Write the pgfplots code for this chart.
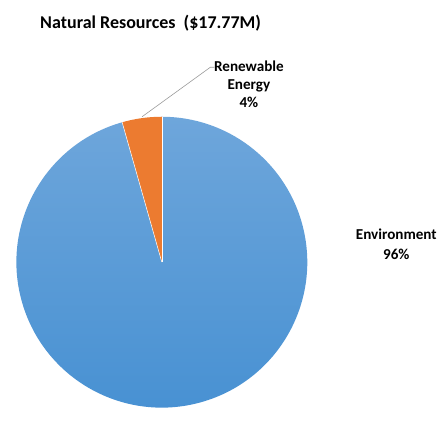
\documentclass[border=0pt]{standalone}
\usepackage{pgfplots}
\usepackage{pgfplotstable}
\pgfplotsset{compat=1.18}
\usepackage{fontspec}
\setmainfont{Carlito}
\definecolor{envtop}{HTML}{6EA6DB}
\definecolor{envbot}{HTML}{4690D2}
\definecolor{renorange}{HTML}{EC7B30}
\pgfplotstableread{
name value
Environment 95.6
Renewable 4.4
}\piedata
\begin{document}
\begin{tikzpicture}
\pgfplotstablegetelem{0}{value}\of\piedata \let\vEnv\pgfplotsretval
\pgfplotstablegetelem{1}{value}\of\piedata \let\vRen\pgfplotsretval
\pgfmathsetmacro{\aA}{90}
\pgfmathsetmacro{\aB}{90+3.6*\vRen}
\pgfmathsetmacro{\aC}{\aB+3.6*\vEnv}
\begin{axis}[
  width=440pt, height=412pt, scale only axis,
  xmin=0, xmax=440, ymin=0, ymax=412,
  hide axis, clip=false,
]
\path (rel axis cs:0,0) rectangle (rel axis cs:1,1);
% slices (pixel coords, y flipped)
\shade[top color=envtop, bottom color=envbot] (axis cs:160,147) -- (axis cs:{160+147*cos(\aB)},{147+147*sin(\aB)}) arc[start angle=\aB, end angle=\aC, radius=147pt] -- cycle;
\fill[renorange] (axis cs:160,147) -- (axis cs:{160+147*cos(\aA)},{147+147*sin(\aA)}) arc[start angle=\aA, end angle=\aB, radius=147pt] -- cycle;
\draw[white, line width=0.5pt] (axis cs:160,147) -- (axis cs:{160+147*cos(\aA)},{147+147*sin(\aA)});
\draw[white, line width=0.5pt] (axis cs:160,147) -- (axis cs:{160+147*cos(\aB)},{147+147*sin(\aB)});
% leader line
\draw[gray!80, line width=0.6pt] (axis cs:140,294) -- (axis cs:209,344) -- (axis cs:213,344);
% labels
\node[font=\bfseries\fontsize{18.2}{22}\selectfont, anchor=center] at (axis cs:148.7,388.2) {Natural Resources\ \ (\$17.77M)};
\node[font=\bfseries\fontsize{15.3}{18.3}\selectfont, align=center, anchor=center] at (axis cs:248,327) {Renewable\\Energy\\4\%};
\node[font=\bfseries\fontsize{15.3}{19.5}\selectfont, align=center, anchor=center] at (axis cs:397,165) {Environment\\96\%};
\end{axis}
\end{tikzpicture}
\end{document}
